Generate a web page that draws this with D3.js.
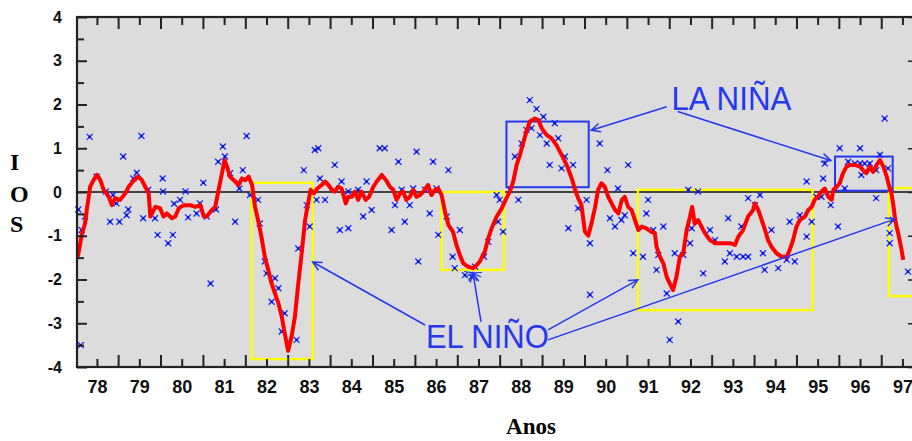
<!DOCTYPE html>
<html><head><meta charset="utf-8">
<script src="https://cdn.jsdelivr.net/npm/d3@7"></script>
<style>html,body{margin:0;padding:0;background:#fff;} svg{display:block}</style>
</head><body>
<svg id="c" width="912" height="441"></svg>
<script>
// Smoothed SOI (red line): decimal year, value
const lineT = [1978.05,1978.15,1978.22,1978.26,1978.34,1978.42,1978.50,1978.58,1978.66,1978.78,1978.85,1978.93,1979.05,1979.17,1979.25,1979.37,1979.48,1979.56,1979.64,1979.72,1979.76,1979.88,1979.99,1980.07,1980.15,1980.27,1980.35,1980.43,1980.55,1980.70,1980.82,1980.94,1981.02,1981.09,1981.21,1981.29,1981.37,1981.45,1981.51,1981.57,1981.64,1981.76,1981.84,1981.92,1982.00,1982.08,1982.16,1982.23,1982.30,1982.38,1982.46,1982.54,1982.62,1982.70,1982.78,1982.86,1982.93,1983.01,1983.09,1983.17,1983.25,1983.33,1983.41,1983.48,1983.54,1983.62,1983.70,1983.80,1983.88,1983.96,1984.04,1984.11,1984.19,1984.27,1984.37,1984.43,1984.51,1984.59,1984.66,1984.74,1984.84,1984.92,1985.02,1985.10,1985.22,1985.32,1985.41,1985.49,1985.57,1985.65,1985.72,1985.80,1985.88,1985.96,1986.04,1986.12,1986.20,1986.31,1986.39,1986.47,1986.55,1986.63,1986.71,1986.79,1986.90,1986.98,1987.06,1987.14,1987.26,1987.38,1987.46,1987.53,1987.65,1987.73,1987.81,1987.93,1988.05,1988.16,1988.24,1988.32,1988.40,1988.48,1988.55,1988.63,1988.71,1988.83,1988.91,1988.99,1989.11,1989.22,1989.34,1989.46,1989.58,1989.70,1989.77,1989.85,1989.93,1990.01,1990.09,1990.17,1990.25,1990.32,1990.40,1990.48,1990.56,1990.64,1990.72,1990.80,1990.88,1990.95,1991.03,1991.11,1991.19,1991.27,1991.35,1991.46,1991.58,1991.66,1991.70,1991.78,1991.86,1991.94,1992.01,1992.09,1992.17,1992.25,1992.33,1992.41,1992.49,1992.54,1992.60,1992.68,1992.76,1992.84,1992.96,1993.08,1993.19,1993.31,1993.43,1993.55,1993.63,1993.74,1993.86,1993.98,1994.02,1994.10,1994.18,1994.26,1994.33,1994.41,1994.53,1994.65,1994.77,1994.84,1994.92,1995.00,1995.08,1995.20,1995.28,1995.36,1995.43,1995.51,1995.59,1995.67,1995.75,1995.83,1995.87,1995.95,1996.02,1996.10,1996.18,1996.26,1996.38,1996.50,1996.57,1996.65,1996.73,1996.81,1996.89,1996.97,1997.05,1997.13,1997.20,1997.24,1997.28,1997.32,1997.36,1997.40,1997.48,1997.52];
const lineV = [-1.48,-0.94,-0.72,-0.41,0.12,0.27,0.39,0.27,0.05,-0.11,-0.30,-0.14,-0.18,-0.03,0.12,0.27,0.35,0.27,0.12,-0.03,-0.56,-0.34,-0.37,-0.56,-0.49,-0.60,-0.56,-0.37,-0.30,-0.30,-0.34,-0.30,-0.56,-0.56,-0.41,-0.34,0.05,0.43,0.73,0.58,0.35,0.24,0.16,0.31,0.27,0.35,0.16,-0.34,-0.64,-1.02,-1.48,-1.78,-2.09,-2.32,-2.54,-2.85,-3.23,-3.63,-3.31,-2.85,-2.09,-1.40,-0.64,-0.26,0.05,-0.03,0.08,0.16,0.24,0.16,0.05,0.01,0.12,0.08,-0.26,-0.11,-0.11,0.01,-0.18,0.01,-0.18,-0.11,0.12,0.24,0.39,0.27,0.12,0.05,-0.18,-0.03,0.01,-0.18,-0.11,0.05,-0.11,-0.07,0.01,0.16,-0.07,0.05,0.08,-0.07,-0.45,-0.75,-0.91,-1.21,-1.44,-1.63,-1.71,-1.74,-1.67,-1.59,-1.36,-1.06,-0.83,-0.56,-0.37,-0.14,0.01,0.24,0.62,0.85,1.11,1.38,1.61,1.68,1.65,1.46,1.30,1.23,1.07,0.85,0.62,0.31,0.08,-0.14,-0.30,-0.91,-1.00,-0.70,-0.35,0.05,0.20,0.12,-0.11,-0.26,-0.41,-0.49,-0.18,-0.11,-0.34,-0.41,-0.64,-0.87,-0.79,-0.83,-0.91,-0.94,-1.25,-1.48,-1.63,-1.94,-2.09,-2.24,-1.94,-1.48,-1.40,-0.87,-0.56,-0.34,-0.72,-0.64,-0.79,-0.94,-1.10,-1.17,-1.17,-1.17,-1.17,-1.21,-1.02,-0.87,-0.56,-0.41,-0.26,-0.41,-0.64,-0.87,-1.10,-1.25,-1.40,-1.48,-1.48,-1.33,-1.10,-0.79,-0.64,-0.56,-0.41,-0.34,-0.18,-0.11,0.01,0.08,-0.11,-0.18,0.05,0.12,0.20,0.43,0.58,0.62,0.62,0.58,0.50,0.43,0.58,0.46,0.62,0.73,0.58,0.35,0.08,-0.03,-0.26,-0.56,-0.79,-0.94,-1.33,-1.55];

// Monthly SOI values (blue crosses): decimal year, value
const ptsT = [1978.06,1978.12,1978.14,1978.22,1978.33,1978.49,1978.71,1978.81,1978.88,1978.96,1979.03,1979.12,1979.24,1979.20,1979.36,1979.44,1979.55,1979.59,1979.71,1979.87,1979.93,1980.05,1980.06,1980.18,1980.29,1980.32,1980.46,1980.59,1980.65,1980.85,1981.01,1980.93,1981.09,1981.18,1981.31,1981.36,1981.47,1981.52,1981.64,1981.76,1981.86,1981.94,1982.03,1982.11,1982.30,1982.34,1982.46,1982.50,1982.70,1982.78,1982.62,1982.93,1982.86,1983.21,1983.25,1983.38,1983.45,1983.52,1983.64,1983.72,1983.76,1983.88,1983.68,1984.11,1984.23,1984.43,1984.27,1984.43,1984.66,1984.78,1984.98,1984.86,1985.17,1985.29,1985.61,1985.45,1985.53,1985.76,1985.69,1985.88,1985.96,1986.04,1986.08,1986.43,1986.79,1986.35,1986.24,1986.51,1986.55,1986.75,1987.06,1986.89,1986.94,1987.18,1987.34,1987.42,1987.63,1987.73,1987.96,1988.08,1987.93,1988.00,1988.24,1988.44,1988.36,1988.52,1988.63,1988.71,1988.87,1988.75,1989.03,1989.30,1988.95,1989.11,1989.38,1989.18,1989.46,1989.54,1989.73,1989.62,1990.05,1989.85,1990.13,1990.36,1990.54,1991.03,1990.13,1990.60,1990.72,1990.87,1990.95,1990.79,1991.15,1991.38,1991.50,1991.46,1991.62,1991.86,1991.74,1991.70,1992.13,1991.94,1992.33,1992.21,1992.01,1992.45,1992.68,1992.53,1992.49,1992.80,1992.96,1993.08,1993.39,1993.31,1993.43,1993.59,1993.74,1993.86,1993.70,1993.86,1994.14,1994.02,1994.41,1994.21,1994.57,1994.77,1994.96,1994.25,1994.84,1995.08,1995.24,1995.36,1995.24,1995.63,1995.47,1995.59,1995.81,1995.67,1996.02,1996.50,1996.14,1995.98,1996.22,1996.38,1996.50,1996.61,1996.73,1996.53,1996.88,1996.97,1997.16,1996.88,1997.08,1997.28,1997.20,1997.20,1997.63];
const ptsV = [-0.40,-3.50,-0.87,-0.56,1.26,0.35,0.01,-0.68,-0.07,-0.26,-0.68,0.81,-0.40,-0.53,0.31,0.44,1.28,-0.60,0.05,-0.60,-0.98,0.31,0.01,-1.17,-0.98,-0.27,-0.18,0.01,-0.58,-0.49,0.21,-0.26,-0.56,-2.09,-0.40,0.69,1.04,0.81,0.43,-0.68,0.08,0.50,1.28,-0.07,-0.18,-0.72,-1.59,-1.86,-1.97,-2.20,-2.51,-2.77,-3.19,-3.38,-1.29,0.50,-0.30,-0.79,0.96,1.00,0.31,-0.18,-0.18,0.62,-0.87,-0.83,0.24,0.01,0.05,-0.56,-0.41,0.24,1.00,1.00,0.69,-0.87,-0.30,-0.68,0.05,-0.30,0.08,0.92,-1.59,0.69,0.50,-0.49,0.05,0.08,-0.98,-0.56,-0.87,-1.48,-1.74,-1.90,-1.94,-1.71,-1.48,-1.14,-0.68,-0.91,-0.07,-0.18,0.05,-0.18,0.81,1.11,1.42,2.10,1.90,1.46,1.72,1.57,1.30,1.11,1.23,0.62,0.54,0.81,0.62,-0.83,-0.18,-0.37,-1.17,1.11,0.50,0.62,-2.35,-0.60,-0.79,-0.64,-0.53,0.08,-1.40,-1.48,-0.18,-0.49,-0.87,-0.79,-1.44,-1.78,-1.40,-2.32,-1.44,-2.96,-3.38,0.05,0.01,-0.83,-1.17,-1.86,-0.87,-1.10,-0.60,-1.59,-1.40,-1.48,-1.48,-1.48,-0.79,-0.14,-0.07,-0.30,-0.87,-1.40,-1.74,-1.55,-1.59,-1.78,-0.68,-0.53,-1.02,-0.68,0.24,0.31,-0.11,-0.11,-0.30,0.65,1.00,1.00,0.08,-0.79,0.69,0.65,0.65,0.65,0.65,0.39,0.50,0.85,0.54,-0.14,1.68,-0.64,-0.94,-1.17,-1.82];

// Axis ticks / labels
const yearTicks = [1978,1979,1980,1981,1982,1983,1984,1985,1986,1987,1988,1989,1990,1991,1992,1993,1994,1995,1996,1997];
const yearLabels = ["78","79","80","81","82","83","84","85","86","87","88","89","90","91","92","93","94","95","96","97"];
const soiTicks = [-4,-3,-2,-1,0,1,2,3,4];
const soiLabels = ["-4","-3","-2","-1","0","1","2","3","4"];

// Annotation boxes: [t0, t1, vTop, vBottom]
const elNinoBoxes = [[1982.15,1983.59,0.21,-3.82],[1986.63,1988.10,0.0,-1.78],[1991.26,1995.38,0.05,-2.70],[1997.18,1998.3,0.09,-2.38]];
const laNinaBoxes = [[1988.16,1990.10,1.61,0.11],[1995.91,1997.27,0.81,0.03]];
// Arrows: [fromT, fromV, toT, toV]
const laNinaArrows = [[1991.94,1.95,1990.16,1.41],[1992.20,1.84,1995.81,0.72]];
const elNinoArrows = [[1986.24,-3.04,1983.59,-1.60],[1987.56,-2.97,1987.37,-1.85],[1989.14,-3.15,1991.26,-2.01],[1989.14,-3.38,1997.32,-0.62]];
const laNinaLabel = {text:"LA NIÑA", t:1992.05, v:1.87};
const elNinoLabel = {text:"EL NIÑO", t:1986.26, v:-3.57};

const svg = d3.select("#c");
const L = 77, R = 916, T = 17, B = 367;
const x = d3.scaleLinear().domain([1978.03, 1997.82]).range([L, R]);
const y = d3.scaleLinear().domain([-4, 4]).range([B, T]);

svg.append("rect").attr("width",912).attr("height",441).attr("fill","#fff");
svg.append("rect").attr("x",L).attr("y",T).attr("width",R-L).attr("height",B-T).attr("fill","#dcdcdc");

// zero line
svg.append("line").attr("x1",L).attr("x2",R).attr("y1",y(0)).attr("y2",y(0))
  .attr("stroke","#111").attr("stroke-width",1.6);

const ann = "#2438ee";
// boxes
svg.append("g").selectAll("rect").data(elNinoBoxes).join("rect")
  .attr("x",d=>x(d[0])).attr("y",d=>y(d[2])).attr("width",d=>x(d[1])-x(d[0])).attr("height",d=>y(d[3])-y(d[2]))
  .attr("fill","none").attr("stroke","#ffff00").attr("stroke-width",2.4);
svg.append("g").selectAll("rect").data(laNinaBoxes).join("rect")
  .attr("x",d=>x(d[0])).attr("y",d=>y(d[2])).attr("width",d=>x(d[1])-x(d[0])).attr("height",d=>y(d[3])-y(d[2]))
  .attr("fill","none").attr("stroke",ann).attr("stroke-width",2);

// scatter crosses
const pts = ptsT.map((t,i)=>[t, ptsV[i]]);
svg.append("g").selectAll("path").data(pts).join("path")
  .attr("transform",d=>`translate(${x(d[0])},${y(d[1])})`)
  .attr("d","M-3,-3L3,3M-3,3L3,-3")
  .attr("stroke","#1f2cff").attr("stroke-width",1.4).attr("fill","none");
svg.append("g").selectAll("rect").data(pts).join("rect")
  .attr("x",d=>x(d[0])-1.2).attr("y",d=>y(d[1])-1.2).attr("width",2.4).attr("height",2.4).attr("fill","#0010d0");

// red smoothed line
const line = d3.line().x(d=>x(d[0])).y(d=>y(d[1]));
svg.append("path").datum(lineT.map((t,i)=>[t, lineV[i]]))
  .attr("d", line).attr("fill","none").attr("stroke","#ff0000").attr("stroke-width",4).attr("stroke-linejoin","round");

// arrows
function drawArrow(g, a, burst){
  const x1=x(a[0]), y1=y(a[1]), x2=x(a[2]), y2=y(a[3]);
  g.append("line").attr("x1",x1).attr("y1",y1).attr("x2",x2).attr("y2",y2)
    .attr("stroke",ann).attr("stroke-width",1.5);
  const ang = Math.atan2(y2-y1, x2-x1), len = 10, spread = 0.45;
  const p = [[x2 - len*Math.cos(ang-spread), y2 - len*Math.sin(ang-spread)],[x2,y2],[x2 - len*Math.cos(ang+spread), y2 - len*Math.sin(ang+spread)]];
  g.append("path").attr("d", d3.line()(p)).attr("fill","none").attr("stroke",ann).attr("stroke-width",1.5);
  if (burst){
    [Math.PI*0.85, Math.PI*0.65, Math.PI*0.15, Math.PI*0.35, Math.PI*1.05, -0.05].forEach(a2=>{
      g.append("line").attr("x1",x2).attr("y1",y2).attr("x2",x2+9*Math.cos(a2)).attr("y2",y2+9*Math.sin(a2))
        .attr("stroke",ann).attr("stroke-width",1.2);
    });
  }
}
const ga = svg.append("g");
laNinaArrows.forEach(a=>drawArrow(ga,a,false));
elNinoArrows.forEach((a,i)=>drawArrow(ga,a,i===1));

// labels
[[laNinaLabel,120],[elNinoLabel,123]].forEach(([lb,w])=>{
  svg.append("text").attr("x",x(lb.t)).attr("y",y(lb.v)).text(lb.text)
    .attr("font-family","Liberation Sans, Arial, sans-serif").attr("font-size",34)
    .attr("textLength",w).attr("lengthAdjust","spacingAndGlyphs").attr("fill",ann);
});

// axes
const minorT = yearTicks.map(t=>t+0.5);
const tickStyle = (g,w)=>{ g.select(".domain").remove(); g.selectAll("line").attr("stroke","#222").attr("stroke-width",w); };
svg.append("g").attr("transform",`translate(0,${B})`).call(d3.axisBottom(x).tickValues(yearTicks.filter(t=>t>1978)).tickSize(-12).tickFormat("")).call(g=>tickStyle(g,2));
svg.append("g").attr("transform",`translate(0,${B})`).call(d3.axisBottom(x).tickValues(minorT).tickSize(-8).tickFormat("")).call(g=>tickStyle(g,2));
svg.append("g").attr("transform",`translate(0,${T})`).call(d3.axisTop(x).tickValues(yearTicks.filter(t=>t>1978)).tickSize(-12).tickFormat("")).call(g=>tickStyle(g,2));
svg.append("g").attr("transform",`translate(0,${T})`).call(d3.axisTop(x).tickValues(minorT).tickSize(-8).tickFormat("")).call(g=>tickStyle(g,2));
svg.append("g").attr("transform",`translate(0,${B})`)
  .call(d3.axisBottom(x).tickValues(minorT).tickSize(0).tickPadding(13).tickFormat((d,i)=>yearLabels[i]))
  .call(g=>{g.select(".domain").remove(); g.selectAll("text").attr("font-family","Liberation Sans, Arial, sans-serif").attr("font-size",18).attr("font-weight","bold").attr("fill","#111");});

svg.append("g").attr("transform",`translate(${L},0)`)
  .call(d3.axisLeft(y).tickValues(soiTicks).tickSize(-10).tickPadding(15).tickFormat((d,i)=>soiLabels[i]))
  .call(g=>{tickStyle(g,2); g.selectAll("text").attr("font-family","Liberation Sans, Arial, sans-serif").attr("font-size",16).attr("font-weight","bold").attr("fill","#111");});
svg.append("g").attr("transform",`translate(${L},0)`)
  .call(d3.axisLeft(y).tickValues(soiTicks.slice(0,-1).map(v=>v+0.5)).tickSize(-7).tickFormat(""))
  .call(g=>tickStyle(g,2));
svg.append("g").attr("transform",`translate(${R},0)`)
  .call(d3.axisRight(y).tickValues(soiTicks).tickSize(-8).tickFormat(""))
  .call(g=>tickStyle(g,1.5));

// border
svg.append("rect").attr("x",L).attr("y",T).attr("width",R-L).attr("height",B-T)
  .attr("fill","none").attr("stroke","#222").attr("stroke-width",2.2);

// axis titles
const serif = "Liberation Serif, Times New Roman, serif";
[["I",170],["O",202],["S",232]].forEach(([c,yy])=>{
  svg.append("text").attr("x",10).attr("y",yy).text(c).attr("font-family",serif).attr("font-size",24).attr("font-weight","bold").attr("fill","#000");
});
svg.append("text").attr("x",531).attr("y",434).attr("text-anchor","middle").text("Anos")
  .attr("font-family",serif).attr("font-size",23).attr("font-weight","bold").attr("fill","#000");
</script>
</body></html>
